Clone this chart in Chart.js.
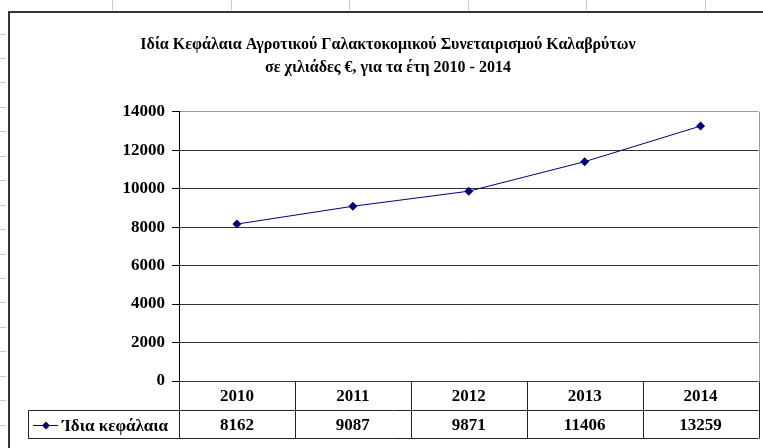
<!DOCTYPE html>
<html>
<head>
<meta charset="utf-8">
<script src="https://cdn.jsdelivr.net/npm/chart.js@4/dist/chart.umd.min.js"></script>
<style>
  html, body { margin: 0; padding: 0; background: #fff; }
  #wrap { width: 763px; height: 448px; }
</style>
</head>
<body>
<div id="wrap"><canvas id="graficaKefalaia" width="763" height="448"></canvas></div>
<script>
// Datos
const years = ['2010', '2011', '2012', '2013', '2014'];
const equity = [8162, 9087, 9871, 11406, 13259];
const yTicks = [0, 2000, 4000, 6000, 8000, 10000, 12000, 14000];
const seriesName = 'Ίδια κεφάλαια';
const titleLines = [
  'Ιδία Κεφάλαια Αγροτικού Γαλακτοκομικού Συνεταιρισμού Καλαβρύτων',
  'σε χιλιάδες €, για τα έτη 2010 - 2014'
];

const SERIF = '"Liberation Serif", "DejaVu Serif", serif';
const NAVY = '#000080';

// fondo blanco + marco tipo hoja de cálculo
const sheetPlugin = {
  id: 'sheet',
  beforeDraw(chart) {
    const c = chart.ctx;
    c.save();
    c.fillStyle = '#fff';
    c.fillRect(0, 0, chart.width, chart.height);
    // marcas de filas / columnas de la hoja
    c.strokeStyle = '#c8c8c8';
    c.lineWidth = 1;
    for (let y = 33.5; y < chart.height; y += 24.45) {
      c.beginPath(); c.moveTo(0, Math.round(y) + 0.5); c.lineTo(6, Math.round(y) + 0.5); c.stroke();
    }
    for (let x = 112; x < chart.width; x += 118.6) {
      c.beginPath(); c.moveTo(Math.round(x) + 0.5, 0); c.lineTo(Math.round(x) + 0.5, 10); c.stroke();
    }
    // borde exterior del gráfico
    c.strokeStyle = '#333';
    c.lineWidth = 2;
    c.beginPath();
    c.moveTo(chart.width, 12);
    c.lineTo(9, 12);
    c.lineTo(9, chart.height);
    c.stroke();
    c.restore();
  }
};

// tabla de datos debajo del eje
const tablePlugin = {
  id: 'dataTable',
  afterDraw(chart) {
    const c = chart.ctx;
    const x = chart.scales.x;
    const ca = chart.chartArea;
    const colW = x.getPixelForValue(1) - x.getPixelForValue(0);
    const first = x.getPixelForValue(0) - colW / 2;
    const top = Math.round(ca.bottom) + 0.5;
    const mid = top + 29;
    const bot = top + 57;
    const legendLeft = 28.5;

    c.save();
    // borde derecho del área del gráfico
    c.strokeStyle = '#9a9a9a';
    c.lineWidth = 1;
    c.beginPath();
    c.moveTo(Math.round(ca.right) + 0.5, ca.top);
    c.lineTo(Math.round(ca.right) + 0.5, bot);
    c.stroke();

    c.strokeStyle = '#222';
    c.beginPath();
    c.moveTo(legendLeft, mid); c.lineTo(ca.right, mid);
    c.moveTo(legendLeft, bot); c.lineTo(ca.right, bot);
    c.moveTo(legendLeft, mid); c.lineTo(legendLeft, bot);
    for (let i = 0; i <= years.length; i++) {
      const px = Math.round(first + i * colW) + 0.5;
      c.moveTo(px, top); c.lineTo(px, bot);
    }
    c.stroke();

    // textos
    c.fillStyle = '#000';
    c.textAlign = 'center';
    c.textBaseline = 'middle';
    c.font = 'bold 17px ' + SERIF;
    years.forEach((yr, i) => {
      const cx = x.getPixelForValue(i);
      c.fillText(yr, cx, (top + mid) / 2 + 1);
      c.fillText(String(equity[i]), cx, (mid + bot) / 2 + 1);
    });

    // leyenda
    const ly = Math.round((mid + bot) / 2) + 0.5;
    c.strokeStyle = NAVY;
    c.beginPath(); c.moveTo(33, ly); c.lineTo(58, ly); c.stroke();
    c.fillStyle = NAVY;
    c.beginPath();
    c.moveTo(46, ly - 4); c.lineTo(50, ly); c.lineTo(46, ly + 4); c.lineTo(42, ly); c.closePath();
    c.fill();
    c.fillStyle = '#000';
    c.textAlign = 'left';
    c.font = 'bold 17px ' + SERIF;
    c.fillText(seriesName, 62, ly + 1);
    c.restore();
  }
};

const chartKefalaia = new Chart(document.getElementById('graficaKefalaia').getContext('2d'), {
  type: 'line',
  data: {
    labels: years,
    datasets: [{
      label: seriesName,
      data: equity,
      borderColor: NAVY,
      backgroundColor: NAVY,
      borderWidth: 1,
      pointStyle: 'rectRot',
      pointRadius: 4.5,
      pointBorderWidth: 0,
      tension: 0
    }]
  },
  options: {
    responsive: false,
    devicePixelRatio: 1,
    animation: false,
    layout: { padding: { left: 17, right: 4, top: 14, bottom: 67 } },
    plugins: {
      legend: { display: false },
      tooltip: { enabled: false },
      title: {
        display: true,
        text: titleLines,
        color: '#000',
        font: { family: SERIF, size: 16, weight: 'bold', lineHeight: 1.4 },
        padding: { top: 20, bottom: 33 }
      }
    },
    scales: {
      x: { display: false, offset: true },
      y: {
        min: 0,
        max: 14000,
        afterBuildTicks: scale => { scale.ticks = yTicks.map(v => ({ value: v })); },
        afterFit: scale => { scale.width = 179 - 17; },
        border: { display: true, color: '#000', width: 1 },
        grid: {
          color: ctx => ctx.tick && ctx.tick.value === 14000 ? '#9a9a9a' : '#333',
          tickColor: '#000',
          tickLength: 7,
          lineWidth: 1
        },
        ticks: {
          color: '#000',
          padding: 7,
          font: { family: SERIF, size: 17, weight: 'bold' },
          callback: v => String(v)
        }
      }
    }
  },
  plugins: [sheetPlugin, tablePlugin]
});
</script>
</body>
</html>
